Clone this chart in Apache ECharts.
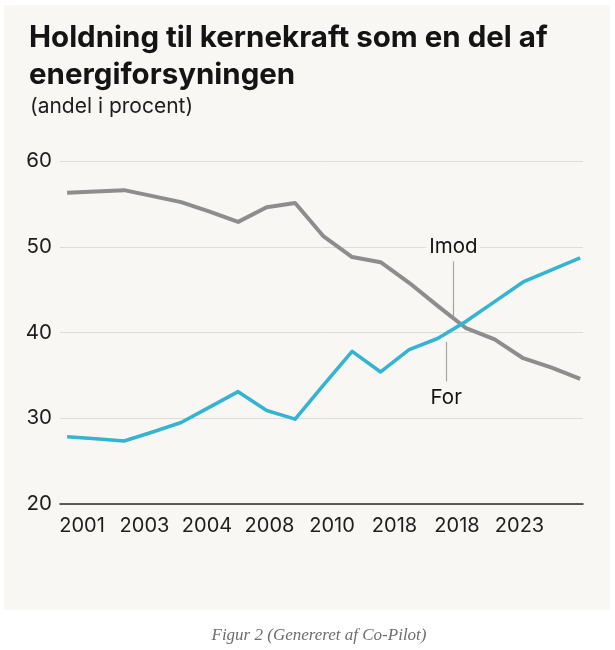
<!DOCTYPE html>
<html>
<head>
<meta charset="utf-8">
<script src="https://cdn.jsdelivr.net/npm/echarts@6/dist/echarts.min.js"></script>
<style>
  html, body { margin: 0; padding: 0; background: #ffffff; }
  #panel { position: absolute; left: 4px; top: 5px; width: 606px; height: 605px; background: #f8f7f3; }
  #chart { position: absolute; left: 0; top: 0; width: 615px; height: 650px; }
</style>
</head>
<body>
<div id="panel"></div>
<div id="chart"></div>
<script>
// x tick labels (as printed in the source chart)
var yearLabels = ['2001', '2003', '2004', '2008', '2010', '2018', '2018', '2023'];
var imodValues = [56.3, 56.45, 56.6, 55.9, 55.2, 54.1, 52.9, 54.6, 55.1, 51.2, 48.8, 48.2, 45.8, 43.1, 40.5, 39.2, 37.0, 35.9, 34.6];
var forValues  = [27.85, 27.6, 27.35, 28.4, 29.5, 31.3, 33.1, 30.9, 29.9, 33.9, 37.8, 35.4, 38.0, 39.3, 41.3, 43.6, 45.9, 47.3, 48.7];
var yTicks = [20, 30, 40, 50, 60];
// annotation anchors (data coordinates: point index, value)
var imodLabelAt = [13.55, 50];
var imodLeader = [[13.55, 48.3], [13.55, 41.9]];
var forLabelAt = [13.3, 32.4];
var forLeader = [[13.3, 38.9], [13.3, 34.3]];

function toPairs(arr) { return arr.map(function (v, i) { return [i, v]; }); }

var chart = echarts.init(document.getElementById('chart'), null, { renderer: 'canvas' });
var FONT = 'Inter, Roboto, "Noto Sans", sans-serif';
chart.setOption({
  backgroundColor: 'transparent',
  animation: false,
  textStyle: { fontFamily: FONT },
  title: [
    {
      text: 'Holdning til kernekraft som en del af\nenergiforsyningen',
      left: 29, top: 20, padding: 0,
      textStyle: { fontFamily: FONT, fontSize: 29.5, fontWeight: 'bold', color: '#141414', lineHeight: 37 }
    },
    {
      text: '(andel i procent)',
      left: 30, top: 94, padding: 0,
      textStyle: { fontFamily: FONT, fontSize: 21, fontWeight: 'normal', color: '#1e1e1e', lineHeight: 26 }
    },
    {
      text: 'Figur 2 (Genereret af Co-Pilot)',
      left: 319, top: 627, textAlign: 'center', padding: 0,
      textStyle: { fontFamily: '"Liberation Serif", "DejaVu Serif", serif', fontStyle: 'italic', fontSize: 17, fontWeight: 'normal', color: '#6e6e6e' }
    }
  ],
  grid: [
    { left: 60, right: 32, top: 161, bottom: 146 },
    { left: 50.75, right: 64.25, top: 161, bottom: 146 }
  ],
  xAxis: [
    {
      type: 'value', gridIndex: 0, min: -0.25, max: 18.1,
      axisLine: { show: true, onZero: false, lineStyle: { color: '#2a2a2a', width: 1.5 } },
      axisTick: { show: false }, axisLabel: { show: false }, splitLine: { show: false }
    },
    {
      type: 'category', gridIndex: 1, data: yearLabels, boundaryGap: true,
      axisLine: { show: false }, axisTick: { show: false }, splitLine: { show: false },
      axisLabel: { fontFamily: FONT, fontSize: 20, color: '#1e1e1e', margin: 12, interval: 0 }
    }
  ],
  yAxis: [
    {
      type: 'value', gridIndex: 0, min: yTicks[0], max: yTicks[yTicks.length - 1], interval: 10,
      axisLine: { show: false }, axisTick: { show: false },
      axisLabel: { fontFamily: FONT, fontSize: 20.5, color: '#1e1e1e', margin: 8 },
      splitLine: { show: true, lineStyle: { color: '#dedcd8', width: 1 } }
    },
    {
      type: 'value', gridIndex: 1, min: 0, max: 1, show: false
    }
  ],
  series: [
    {
      name: 'Imod', type: 'line', xAxisIndex: 0, yAxisIndex: 0,
      data: toPairs(imodValues), symbol: 'none', z: 3,
      lineStyle: { color: '#8d8d8d', width: 4, join: 'round' },
      markLine: {
        silent: true, symbol: 'none', label: { show: false },
        lineStyle: { color: '#a6a6a6', width: 1.2, type: 'solid' },
        data: [[{ coord: imodLeader[0] }, { coord: imodLeader[1] }]]
      },
      markPoint: {
        silent: true, symbol: 'rect', symbolSize: [1, 1], itemStyle: { color: 'rgba(0,0,0,0)' },
        label: {
          show: true, position: 'inside', formatter: 'Imod', fontFamily: FONT, fontSize: 20.5,
          color: '#141414', backgroundColor: '#f8f7f3', padding: [0, 3]
        },
        data: [{ coord: imodLabelAt }]
      }
    },
    {
      name: 'For', type: 'line', xAxisIndex: 0, yAxisIndex: 0,
      data: toPairs(forValues), symbol: 'none', z: 4,
      lineStyle: { color: '#34b4d0', width: 3.6, join: 'round' },
      markLine: {
        silent: true, symbol: 'none', label: { show: false },
        lineStyle: { color: '#a6a6a6', width: 1.2, type: 'solid' },
        data: [[{ coord: forLeader[0] }, { coord: forLeader[1] }]]
      },
      markPoint: {
        silent: true, symbol: 'rect', symbolSize: [1, 1], itemStyle: { color: 'rgba(0,0,0,0)' },
        label: {
          show: true, position: 'inside', formatter: 'For', fontFamily: FONT, fontSize: 20.5,
          color: '#141414', padding: [0, 3]
        },
        data: [{ coord: forLabelAt }]
      }
    }
  ]
});
</script>
</body>
</html>
